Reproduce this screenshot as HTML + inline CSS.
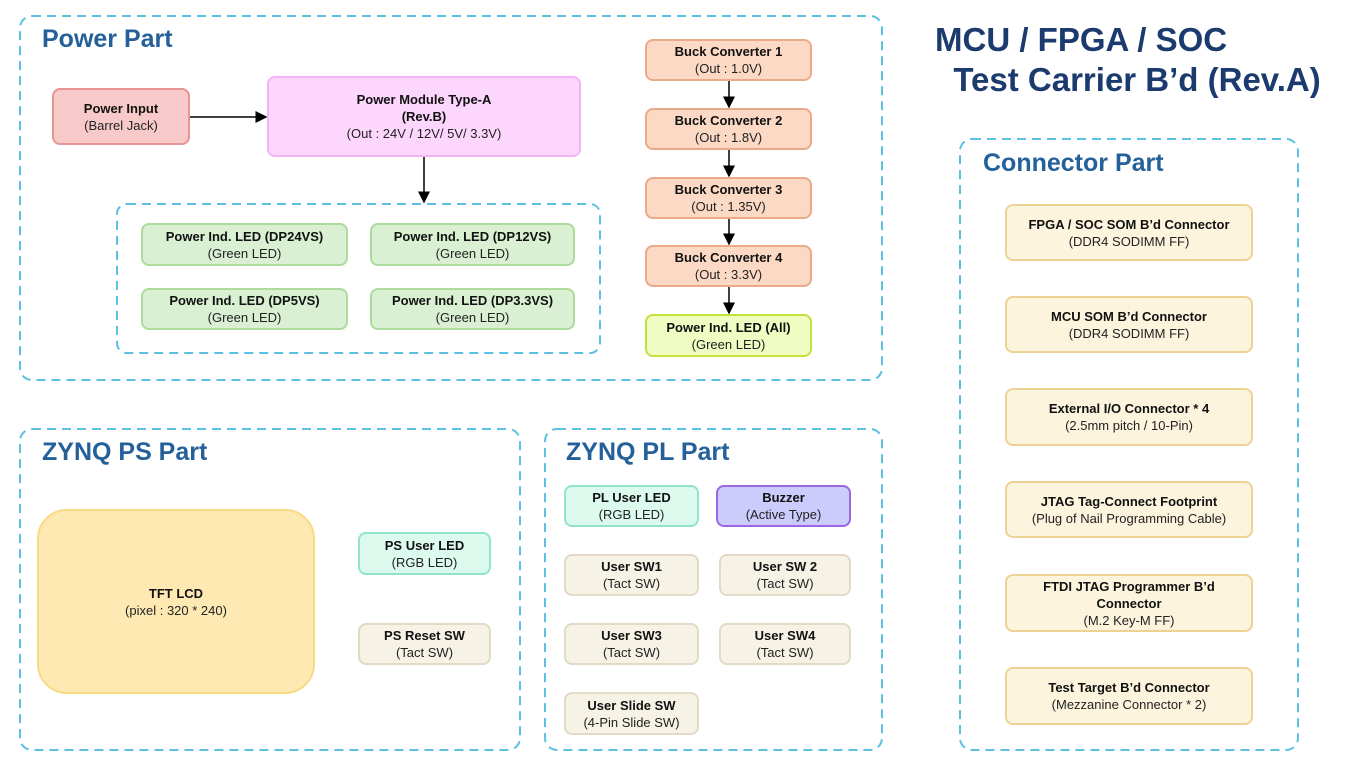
<!DOCTYPE html>
<html><head><meta charset="utf-8"><style>
body{margin:0;width:1366px;height:768px;background:#fff;position:relative;overflow:hidden;font-family:"Liberation Sans",sans-serif}
.b{position:absolute;box-sizing:border-box;border:2px solid;border-radius:8px;display:flex;flex-direction:column;justify-content:center;align-items:center;text-align:center;font-size:13px;color:#222;line-height:17px}
.b b{color:#111}
.t{position:absolute;font-weight:bold;color:#24609a;font-size:25px}
.pi{background:#f8c9c9;border-color:#e89494}
.pm{background:#fdd6fd;border-color:#f3b4f3}
.g{background:#d9f0d2;border-color:#acdb9c}
.bk{background:#fcd9c5;border-color:#eba98a}
.la{background:#effcc2;border-color:#c6e03a}
.c{background:#fdf4de;border-color:#edd293}
.sw{background:#f6f2e6;border-color:#e2dac4}
.cy{background:#ddfaee;border-color:#8fe6c6}
</style></head><body>
<svg width="1366" height="768" style="position:absolute;left:0;top:0">
<defs><marker id="a" markerWidth="8" markerHeight="8" refX="7" refY="4" orient="auto"><path d="M0,0L8,4L0,8z" fill="#000"/></marker></defs>
<g fill="none" stroke="#5cc0e2" stroke-width="2" stroke-dasharray="9,6">
<rect x="20" y="16" width="862" height="364" rx="12"/>
<rect x="117" y="204" width="483" height="149" rx="10"/>
<rect x="960" y="139" width="338" height="611" rx="12"/>
<rect x="20" y="429" width="500" height="321" rx="12"/>
<rect x="545" y="429" width="337" height="321" rx="12"/>
</g>
<g stroke="#000" stroke-width="1.5" marker-end="url(#a)">
<line x1="190" y1="117" x2="266" y2="117"/>
<line x1="424" y1="157" x2="424" y2="202"/>
<line x1="729" y1="81" x2="729" y2="107"/>
<line x1="729" y1="150" x2="729" y2="176"/>
<line x1="729" y1="219" x2="729" y2="244"/>
<line x1="729" y1="287" x2="729" y2="313"/>
</g>
</svg>
<div class="t" style="left:42px;top:25px">Power Part</div>
<div class="t" style="left:983px;top:149px">Connector Part</div>
<div class="t" style="left:42px;top:438px">ZYNQ PS Part</div>
<div class="t" style="left:566px;top:438px">ZYNQ PL Part</div>
<div style="position:absolute;left:935px;top:20px;font-size:33px;font-weight:bold;color:#1b3a6e;line-height:40px">MCU / FPGA / SOC<br>&nbsp;&nbsp;Test Carrier B’d (Rev.A)</div>

<div class="b pi" style="left:52px;top:88px;width:138px;height:57px"><b>Power Input</b>(Barrel Jack)</div>
<div class="b pm" style="left:267px;top:76px;width:314px;height:81px"><b>Power Module Type-A</b><b>(Rev.B)</b>(Out : 24V / 12V/ 5V/ 3.3V)</div>
<div class="b g" style="left:141px;top:223px;width:207px;height:43px"><b>Power Ind. LED (DP24VS)</b>(Green LED)</div>
<div class="b g" style="left:370px;top:223px;width:205px;height:43px"><b>Power Ind. LED (DP12VS)</b>(Green LED)</div>
<div class="b g" style="left:141px;top:288px;width:207px;height:42px"><b>Power Ind. LED (DP5VS)</b>(Green LED)</div>
<div class="b g" style="left:370px;top:288px;width:205px;height:42px"><b>Power Ind. LED (DP3.3VS)</b>(Green LED)</div>
<div class="b bk" style="left:645px;top:39px;width:167px;height:42px"><b>Buck Converter 1</b>(Out : 1.0V)</div>
<div class="b bk" style="left:645px;top:108px;width:167px;height:42px"><b>Buck Converter 2</b>(Out : 1.8V)</div>
<div class="b bk" style="left:645px;top:177px;width:167px;height:42px"><b>Buck Converter 3</b>(Out : 1.35V)</div>
<div class="b bk" style="left:645px;top:245px;width:167px;height:42px"><b>Buck Converter 4</b>(Out : 3.3V)</div>
<div class="b la" style="left:645px;top:314px;width:167px;height:43px"><b>Power Ind. LED (All)</b>(Green LED)</div>

<div class="b c" style="left:1005px;top:204px;width:248px;height:57px"><b>FPGA / SOC SOM B’d Connector</b>(DDR4 SODIMM FF)</div>
<div class="b c" style="left:1005px;top:296px;width:248px;height:57px"><b>MCU SOM B’d Connector</b>(DDR4 SODIMM FF)</div>
<div class="b c" style="left:1005px;top:388px;width:248px;height:58px"><b>External I/O Connector * 4</b>(2.5mm pitch / 10-Pin)</div>
<div class="b c" style="left:1005px;top:481px;width:248px;height:57px"><b>JTAG Tag-Connect Footprint</b>(Plug of Nail Programming Cable)</div>
<div class="b c" style="left:1005px;top:574px;width:248px;height:58px"><b>FTDI JTAG Programmer B’d</b><b>Connector</b>(M.2 Key-M FF)</div>
<div class="b c" style="left:1005px;top:667px;width:248px;height:58px"><b>Test Target B’d Connector</b>(Mezzanine Connector * 2)</div>

<div class="b" style="left:37px;top:509px;width:278px;height:185px;background:#fde9b1;border-color:#f8d984;border-radius:30px"><b>TFT LCD</b>(pixel : 320 * 240)</div>
<div class="b cy" style="left:358px;top:532px;width:133px;height:43px"><b>PS User LED</b>(RGB LED)</div>
<div class="b sw" style="left:358px;top:623px;width:133px;height:42px"><b>PS Reset SW</b>(Tact SW)</div>

<div class="b cy" style="left:564px;top:485px;width:135px;height:42px"><b>PL User LED</b>(RGB LED)</div>
<div class="b" style="left:716px;top:485px;width:135px;height:42px;background:#ccccfc;border-color:#9a68e0"><b>Buzzer</b>(Active Type)</div>
<div class="b sw" style="left:564px;top:554px;width:135px;height:42px"><b>User SW1</b>(Tact SW)</div>
<div class="b sw" style="left:719px;top:554px;width:132px;height:42px"><b>User SW 2</b>(Tact SW)</div>
<div class="b sw" style="left:564px;top:623px;width:135px;height:42px"><b>User SW3</b>(Tact SW)</div>
<div class="b sw" style="left:719px;top:623px;width:132px;height:42px"><b>User SW4</b>(Tact SW)</div>
<div class="b sw" style="left:564px;top:692px;width:135px;height:43px"><b>User Slide SW</b>(4-Pin Slide SW)</div>
</body></html>
